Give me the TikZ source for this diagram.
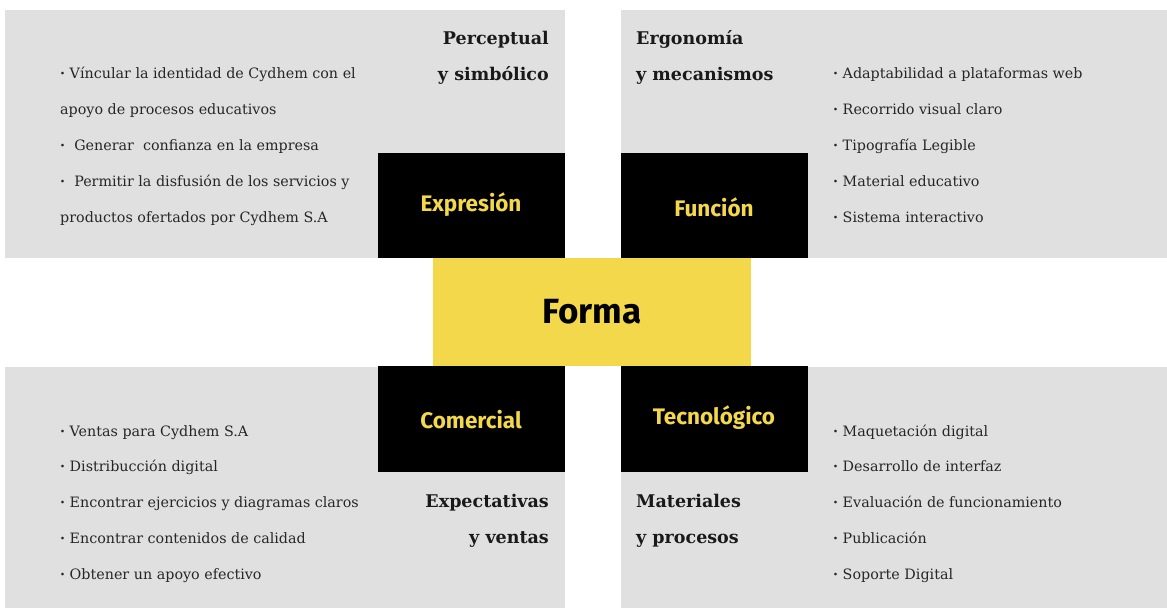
\documentclass[tikz,border=0pt]{standalone}
\usepackage{fontspec}
\setmainfont{DejaVu Serif}
\newfontfamily\labelfont{Fira Sans}
\definecolor{panelgray}{HTML}{E0E0E0}
\definecolor{formayellow}{HTML}{F2D84A}
\definecolor{bodytext}{HTML}{262626}
\newcommand{\bdot}{{\bfseries ·}}
\begin{document}
\begin{tikzpicture}[x=1pt,y=-1pt,
  panel/.style={fill=panelgray,draw=none},
  boxlabel/.style={text=formayellow,font=\labelfont\bfseries\fontsize{22.5}{26}\selectfont},
  item/.style={anchor=base west,inner sep=0pt,text=bodytext,font=\fontsize{14.3}{17}\selectfont},
  headR/.style={anchor=base east,inner sep=0pt,text=black!90,font=\bfseries\fontsize{17.5}{22}\selectfont},
  headL/.style={anchor=base west,inner sep=0pt,text=black!90,font=\bfseries\fontsize{17.5}{22}\selectfont}]
\useasboundingbox[fill=white] (0,0) rectangle (1167,608);
% panels
\fill[panel] (5,10) rectangle (565,258);
\fill[panel] (621,10) rectangle (1167,258);
\fill[panel] (5,367) rectangle (565,608);
\fill[panel] (621,367) rectangle (1167,608);
% black boxes
\fill[black] (378,153) rectangle (565,258);
\fill[black] (621,153) rectangle (808,258);
\fill[black] (378,366) rectangle (565,472);
\fill[black] (621,366) rectangle (808,472);
% yellow center
\fill[formayellow] (433,258) rectangle (751,366);
% labels
\node[boxlabel] (expresion) at (471,205) {Expresión};
\node[boxlabel] (funcion) at (714,207) {Función};
\node[boxlabel] (comercial) at (471,420) {Comercial};
\node[boxlabel] (tecnologico) at (714,418) {Tecnológico};
\node[font=\labelfont\bfseries\fontsize{35}{40}\selectfont,text=black] (forma) at (592,312) {Forma};
% headings
\node[headR] (h1a) at (549,44) {Perceptual};
\node[headR] (h1b) at (549,80) {y simbólico};
\node[headL] (h2a) at (636,44) {Ergonomía};
\node[headL] (h2b) at (636,80) {y mecanismos};
\node[headR] (h3a) at (549,507) {Expectativas};
\node[headR] (h3b) at (549,543) {y ventas};
\node[headL] (h4a) at (636,507) {Materiales};
\node[headL] (h4b) at (636,543) {y procesos};
% top-left items
\node[item] (tl1) at (60,78) {\bdot{} Víncular la identidad de Cydhem con el};
\node[item] (tl2) at (60,114) {apoyo de procesos educativos};
\node[item] (tl3) at (60,150) {\bdot\ \ Generar\ \ confianza en la empresa};
\node[item] (tl4) at (60,186) {\bdot\ \ Permitir la disfusión de los servicios y};
\node[item] (tl5) at (60,222) {productos ofertados por Cydhem S.A};
% top-right items
\node[item] (tr1) at (833,78) {\bdot{} Adaptabilidad a plataformas web};
\node[item] (tr2) at (833,114) {\bdot{} Recorrido visual claro};
\node[item] (tr3) at (833,150) {\bdot{} Tipografía Legible};
\node[item] (tr4) at (833,186) {\bdot{} Material educativo};
\node[item] (tr5) at (833,222) {\bdot{} Sistema interactivo};
% bottom-left items
\node[item] (bl1) at (60,436) {\bdot{} Ventas para Cydhem S.A};
\node[item] (bl2) at (60,471) {\bdot{} Distribucción digital};
\node[item] (bl3) at (60,507) {\bdot{} Encontrar ejercicios y diagramas claros};
\node[item] (bl4) at (60,543) {\bdot{} Encontrar contenidos de calidad};
\node[item] (bl5) at (60,579) {\bdot{} Obtener un apoyo efectivo};
% bottom-right items
\node[item] (br1) at (833,436) {\bdot{} Maquetación digital};
\node[item] (br2) at (833,471) {\bdot{} Desarrollo de interfaz};
\node[item] (br3) at (833,507) {\bdot{} Evaluación de funcionamiento};
\node[item] (br4) at (833,543) {\bdot{} Publicación};
\node[item] (br5) at (833,579) {\bdot{} Soporte Digital};
\end{tikzpicture}
\end{document}
